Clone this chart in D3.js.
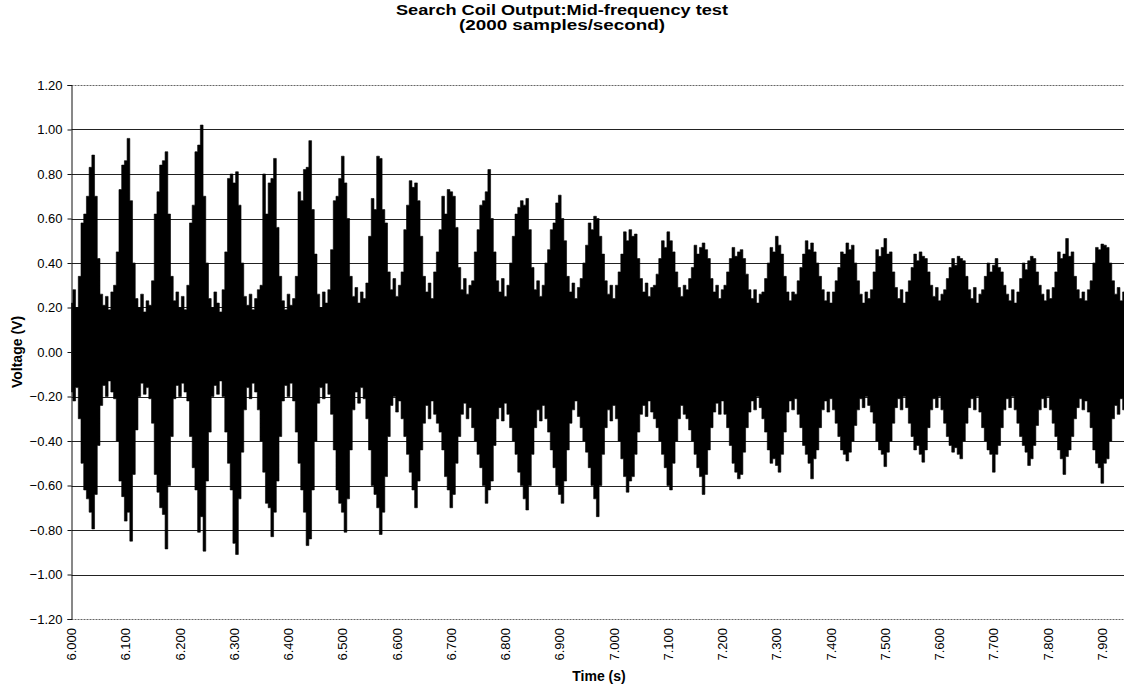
<!DOCTYPE html>
<html>
<head>
<meta charset="utf-8">
<script src="https://cdn.jsdelivr.net/npm/d3@7"></script>
<style>
  html, body { margin: 0; padding: 0; background: #fff; }
  svg { display: block; }
  text { font-family: "Liberation Sans", Arial, sans-serif; fill: #000; }
</style>
</head>
<body>
<svg id="chart" width="1124" height="687"></svg>
<script>
// ---- data ----
const titleLines = ["Search Coil Output:Mid-frequency test", "(2000 samples/second)"];
const xTitle = "Time (s)";
const yTitle = "Voltage (V)";
const yTicks = [-1.2, -1.0, -0.8, -0.6, -0.4, -0.2, 0.0, 0.2, 0.4, 0.6, 0.8, 1.0, 1.2];
const xTicks = [6.0, 6.1, 6.2, 6.3, 6.4, 6.5, 6.6, 6.7, 6.8, 6.9, 7.0, 7.1, 7.2, 7.3, 7.4, 7.5, 7.6, 7.7, 7.8, 7.9];
const timeStart = 6.0;     // s
const timeStep = 0.005;    // s, envelope read every 5 ms
const timeEnd = 7.94;      // right edge of the plot

// upper envelope of the signal (V), one value per 5 ms
const upperEnvelope = [
  0.22, 0.28, 0.20,
  0.34, 0.58, 0.62, 0.70, 0.83, 0.885, 0.70, 0.42, 0.26,
  0.21, 0.25, 0.19, 0.27,
  0.30, 0.45, 0.73, 0.84, 0.86, 0.96, 0.68, 0.40, 0.24,
  0.20, 0.26, 0.18, 0.23, 0.21,
  0.32, 0.62, 0.72, 0.84, 0.86, 0.90, 0.62, 0.34, 0.23,
  0.27, 0.20, 0.25, 0.19,
  0.30, 0.58, 0.66, 0.90, 0.93, 1.02, 0.70, 0.40, 0.24,
  0.20, 0.27, 0.22, 0.18,
  0.28, 0.45, 0.78, 0.80, 0.76, 0.81, 0.66, 0.40, 0.25,
  0.21, 0.26, 0.19, 0.24, 0.28,
  0.30, 0.80, 0.62, 0.76, 0.78, 0.87, 0.56, 0.34, 0.23,
  0.19, 0.26, 0.21, 0.24,
  0.34, 0.72, 0.68, 0.82, 0.83, 0.95, 0.64, 0.44, 0.26,
  0.20, 0.27, 0.22,
  0.28, 0.46, 0.68, 0.70, 0.78, 0.88, 0.76, 0.60, 0.34, 0.25,
  0.29, 0.22, 0.27, 0.24,
  0.31, 0.52, 0.69, 0.64, 0.88, 0.87, 0.64, 0.58, 0.36, 0.28,
  0.33, 0.25, 0.30,
  0.36, 0.55, 0.66, 0.77, 0.74, 0.76, 0.68, 0.52, 0.34, 0.27,
  0.31, 0.24,
  0.36, 0.45, 0.55, 0.70, 0.62, 0.73, 0.72, 0.70, 0.56, 0.38, 0.28,
  0.33, 0.26, 0.30,
  0.32, 0.45, 0.55, 0.66, 0.68, 0.72, 0.82, 0.60, 0.45, 0.32,
  0.27, 0.33, 0.25,
  0.30, 0.40, 0.52, 0.62, 0.65, 0.68, 0.66, 0.69, 0.55, 0.38, 0.28,
  0.32, 0.25,
  0.30, 0.40, 0.46, 0.55, 0.58, 0.67, 0.705, 0.60, 0.50, 0.34,
  0.27, 0.31, 0.24, 0.29,
  0.33, 0.40, 0.48, 0.58, 0.55, 0.61, 0.60, 0.52, 0.44, 0.32,
  0.26, 0.30, 0.24,
  0.30, 0.36, 0.44, 0.54, 0.50, 0.55, 0.52, 0.53, 0.42, 0.33,
  0.27, 0.31, 0.25, 0.29,
  0.30, 0.35, 0.42, 0.50, 0.47, 0.54, 0.50, 0.45, 0.36, 0.29,
  0.25, 0.30,
  0.28, 0.33, 0.38, 0.48, 0.44, 0.47, 0.49, 0.46, 0.42, 0.33, 0.27,
  0.30, 0.24, 0.28,
  0.30, 0.36, 0.42, 0.47, 0.43, 0.45, 0.46, 0.42, 0.35, 0.28,
  0.24, 0.28, 0.22, 0.26,
  0.27, 0.33, 0.40, 0.47, 0.45, 0.52, 0.48, 0.44, 0.34, 0.27,
  0.23, 0.27,
  0.26, 0.32, 0.38, 0.44, 0.50, 0.46, 0.49, 0.45, 0.40, 0.34, 0.28,
  0.23, 0.27, 0.22,
  0.27, 0.32, 0.38, 0.45, 0.44, 0.49, 0.46, 0.48, 0.40, 0.32,
  0.26, 0.22, 0.27, 0.24,
  0.28, 0.36, 0.46, 0.43, 0.47, 0.51, 0.44, 0.45, 0.36, 0.29,
  0.24, 0.28, 0.22,
  0.27, 0.32, 0.38, 0.44, 0.41, 0.45, 0.43, 0.42, 0.36, 0.30,
  0.25, 0.29, 0.23, 0.26,
  0.28, 0.33, 0.38, 0.42, 0.39, 0.43, 0.42, 0.41, 0.34, 0.28,
  0.24, 0.29, 0.22, 0.26,
  0.28, 0.34, 0.40, 0.36, 0.39, 0.42, 0.38, 0.36, 0.30, 0.26,
  0.23, 0.28, 0.22,
  0.27, 0.33, 0.40, 0.37, 0.41, 0.43, 0.42, 0.36, 0.30, 0.26,
  0.23, 0.28, 0.24,
  0.29, 0.36, 0.45, 0.42, 0.44, 0.51, 0.43, 0.45, 0.34, 0.28,
  0.24, 0.27, 0.23, 0.28,
  0.32, 0.40, 0.47, 0.46, 0.485, 0.48, 0.47, 0.40, 0.32, 0.26, 0.29, 0.23, 0.27
];

// lower envelope of the signal (V), one value per 5 ms
const lowerEnvelope = [
  -0.18, -0.22, -0.16,
  -0.30, -0.50, -0.62, -0.66, -0.72, -0.795, -0.64, -0.42, -0.24,
  -0.15, -0.20, -0.13, -0.18, -0.21,
  -0.40, -0.58, -0.65, -0.76, -0.72, -0.85, -0.55, -0.35, -0.20,
  -0.14, -0.19, -0.16, -0.21,
  -0.32, -0.55, -0.63, -0.70, -0.73, -0.885, -0.60, -0.38, -0.21,
  -0.15, -0.20, -0.14, -0.18, -0.22,
  -0.38, -0.52, -0.62, -0.81, -0.74, -0.895, -0.58, -0.36, -0.20,
  -0.15, -0.19, -0.13, -0.20,
  -0.36, -0.50, -0.62, -0.86, -0.91, -0.66, -0.45, -0.26,
  -0.16, -0.21, -0.14, -0.18,
  -0.26, -0.40, -0.54, -0.68, -0.70, -0.83, -0.72, -0.58, -0.38, -0.22,
  -0.15, -0.20, -0.14,
  -0.22, -0.36, -0.50, -0.62, -0.72, -0.87, -0.84, -0.62, -0.40, -0.23,
  -0.16, -0.21, -0.14, -0.19,
  -0.28, -0.44, -0.62, -0.68, -0.72, -0.81, -0.66, -0.44, -0.26,
  -0.18, -0.23, -0.16, -0.21,
  -0.30, -0.44, -0.60, -0.64, -0.70, -0.82, -0.72, -0.56, -0.38, -0.24,
  -0.20, -0.27, -0.22,
  -0.30, -0.38, -0.46, -0.54, -0.62, -0.70, -0.58, -0.44, -0.32,
  -0.24, -0.30, -0.22, -0.28,
  -0.32, -0.36, -0.44, -0.56, -0.62, -0.70, -0.64, -0.50, -0.38, -0.28,
  -0.23, -0.30, -0.25,
  -0.34, -0.40, -0.46, -0.52, -0.60, -0.68, -0.62, -0.58, -0.42, -0.30,
  -0.25, -0.31, -0.23, -0.28,
  -0.34, -0.40, -0.46, -0.54, -0.60, -0.66, -0.71, -0.60, -0.46, -0.34,
  -0.26, -0.31, -0.24,
  -0.30, -0.36, -0.44, -0.52, -0.60, -0.64, -0.68, -0.58, -0.44, -0.32,
  -0.26, -0.22, -0.29,
  -0.34, -0.40, -0.45, -0.52, -0.60, -0.66, -0.74, -0.60, -0.46, -0.34,
  -0.26, -0.31, -0.24,
  -0.30, -0.40, -0.48, -0.56, -0.63, -0.58, -0.56, -0.46, -0.36, -0.28,
  -0.24, -0.29, -0.22, -0.27,
  -0.30, -0.34, -0.40, -0.46, -0.52, -0.60, -0.62, -0.50, -0.40, -0.30,
  -0.24, -0.28,
  -0.30, -0.35, -0.40, -0.46, -0.52, -0.56, -0.64, -0.55, -0.44, -0.34, -0.27,
  -0.23, -0.28, -0.22,
  -0.28, -0.34, -0.42, -0.50, -0.54, -0.57, -0.55, -0.45, -0.34, -0.27,
  -0.22, -0.26, -0.20, -0.25,
  -0.30, -0.36, -0.44, -0.50, -0.48, -0.51, -0.54, -0.46, -0.36, -0.27,
  -0.22, -0.26, -0.21,
  -0.28, -0.34, -0.42, -0.46, -0.50, -0.57, -0.48, -0.44, -0.34, -0.26,
  -0.22, -0.27, -0.21,
  -0.26, -0.32, -0.38, -0.44, -0.46, -0.49, -0.45, -0.40, -0.33, -0.26,
  -0.21, -0.25, -0.20, -0.24,
  -0.27, -0.32, -0.40, -0.44, -0.46, -0.515, -0.45, -0.40, -0.32, -0.25,
  -0.21, -0.26, -0.20,
  -0.25, -0.32, -0.38, -0.44, -0.42, -0.46, -0.495, -0.44, -0.34, -0.26,
  -0.21, -0.25, -0.20,
  -0.26, -0.32, -0.38, -0.42, -0.45, -0.43, -0.46, -0.48, -0.40, -0.32, -0.25,
  -0.21, -0.26, -0.20,
  -0.27, -0.34, -0.40, -0.44, -0.46, -0.54, -0.46, -0.42, -0.34, -0.26,
  -0.21, -0.25, -0.20,
  -0.26, -0.32, -0.38, -0.42, -0.45, -0.51, -0.48, -0.42, -0.33, -0.26,
  -0.21, -0.25, -0.20,
  -0.26, -0.32, -0.38, -0.44, -0.48, -0.55, -0.47, -0.44, -0.38, -0.30, -0.25,
  -0.21, -0.26, -0.22, -0.27,
  -0.34, -0.44, -0.50, -0.52, -0.59, -0.50, -0.48, -0.40, -0.30, -0.24, -0.28, -0.21, -0.26
];

// ---- layout ----
const plot = { left: 71.5, right: 1124, top: 85, bottom: 619 };
const titleWidths = [332, 206];   // the scanned title is set wide

const svg = d3.select("#chart");

const x = d3.scaleLinear().domain([timeStart, timeEnd]).range([plot.left, plot.right]);
const y = d3.scaleLinear().domain([-1.2, 1.2]).range([plot.bottom, plot.top]);

// title
svg.append("g").selectAll("text").data(titleLines).join("text")
  .attr("x", 562).attr("y", (d, i) => 14.5 + i * 15.5)
  .attr("text-anchor", "middle")
  .attr("textLength", (d, i) => titleWidths[i])
  .attr("lengthAdjust", "spacingAndGlyphs")
  .style("font-size", "14px").style("font-weight", "bold")
  .text(d => d);

// grid lines
svg.append("g").selectAll("line").data(yTicks).join("line")
  .attr("x1", plot.left).attr("x2", plot.right)
  .attr("y1", d => Math.round(y(d)) + 0.5).attr("y2", d => Math.round(y(d)) + 0.5)
  .attr("stroke", d => (Math.abs(d) > 1.1 ? "#666" : "#222"))
  .attr("stroke-dasharray", d => (Math.abs(d) > 1.1 ? "2,1" : null))
  .attr("stroke-width", 1);

// signal envelope
const n = Math.min(upperEnvelope.length, lowerEnvelope.length);
const samples = d3.range(n).map(i => ({
  t: timeStart + i * timeStep, hi: upperEnvelope[i], lo: lowerEnvelope[i]
}));
const area = d3.area()
  .x(d => x(d.t))
  .y0(d => y(d.lo))
  .y1(d => y(d.hi))
  .curve(d3.curveStep);
svg.append("path").datum(samples)
  .attr("d", area)
  .attr("fill", "#000")
  .attr("stroke", "#000")
  .attr("stroke-width", 0.6);

// y axis
const yAxis = d3.axisLeft(y).tickValues(yTicks).tickSize(4).tickPadding(5)
  .tickFormat(d3.format(".2f"));
const gy = svg.append("g").attr("transform", `translate(${plot.left},0)`).call(yAxis);
gy.select(".domain").attr("stroke", "#111");
gy.selectAll(".tick line").attr("stroke", "#111");
gy.selectAll(".tick text")
  .style("font-size", "13px")
  .style("font-family", '"Liberation Sans", Arial, sans-serif');

// x tick labels (rotated)
const gx = svg.append("g");
gx.selectAll("text").data(xTicks).join("text")
  .attr("transform", d => `translate(${x(d)},${plot.bottom + 9}) rotate(-90)`)
  .attr("dy", "0.35em")
  .attr("text-anchor", "end")
  .style("font-size", "13px")
  .text(d => d3.format(".3f")(d));

// axis titles
svg.append("text")
  .attr("x", 599).attr("y", 681)
  .attr("text-anchor", "middle")
  .style("font-size", "14px").style("font-weight", "bold")
  .text(xTitle);

svg.append("text")
  .attr("transform", `translate(22,${(plot.top + plot.bottom) / 2}) rotate(-90)`)
  .attr("text-anchor", "middle")
  .style("font-size", "14px").style("font-weight", "bold")
  .text(yTitle);
</script>
</body>
</html>
